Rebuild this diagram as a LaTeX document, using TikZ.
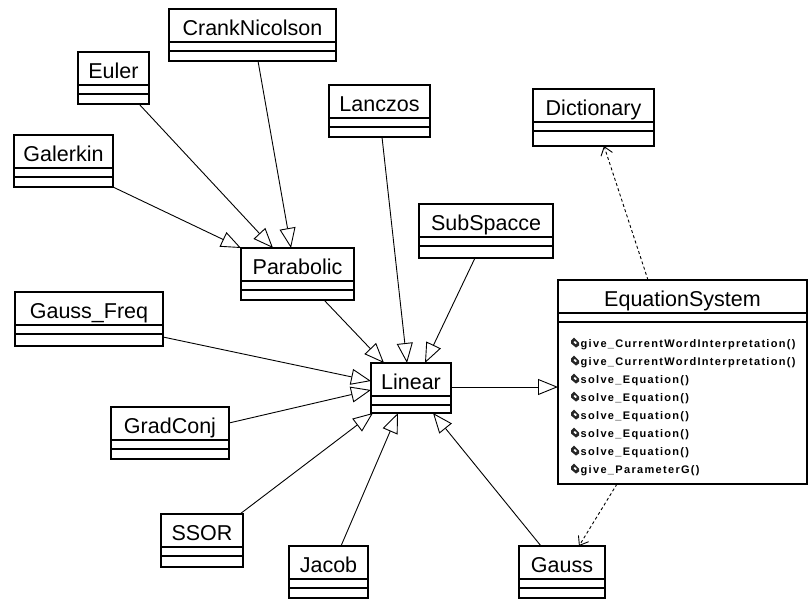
\documentclass[tikz,border=0pt]{standalone}
\usepackage{fontspec}
\setmainfont{Liberation Sans}
\newfontfamily\opfont[LetterSpace=12]{Liberation Sans Bold}
\usetikzlibrary{arrows.meta,calc}

% A UML class box: name compartment plus two empty compartments
% #1 node name, #2 left x, #3 top y, #4 width, #5 height, #6 class name
\newcommand\umlclass[6]{%
  \node[classbox, minimum width=#4pt, minimum height=#5pt] (#1) at (#2,-#3) {};
  \node[classname] (#1-name) at ($(#1.north)+(0,-26)$) {#6};
  \draw[boxline] ($(#1.north west)+(0,-33)$) -- ($(#1.north east)+(0,-33)$);
  \draw[boxline] ($(#1.north west)+(0,-42)$) -- ($(#1.north east)+(0,-42)$);
}

% Operation entry with its small icon; #1 node name, #2 baseline y, #3 text
\newcommand\umlop[3]{%
  \begin{scope}[shift={(0,-#2)}]
    \fill[black!85] (571,7) -- (574,10) -- (579,5) -- (579,2)
         -- (576,0) -- (571,4) -- cycle;
    \fill[white] (573.5,5.5) -- (575,6.5) -- (577,4.5) -- (575.5,3.5) -- cycle;
  \end{scope}
  \node[method] (#1) at (580.5,-#2) {#3};
}

\begin{document}
\begin{tikzpicture}[x=1pt,y=1pt,
  classbox/.style={draw, line width=1.2pt, rectangle, inner sep=0pt,
                   outer sep=0pt, anchor=north west},
  boxline/.style={line width=1.2pt},
  classname/.style={font=\fontsize{21.5}{24}\selectfont, inner sep=0pt, anchor=base},
  method/.style={font=\opfont\fontsize{11}{12}\selectfont,
                 anchor=base west, inner sep=0pt},
  gen/.style={line width=0.9pt,
              -{Triangle[open,length=20pt,width=16pt,line width=0.9pt]}},
  dep/.style={line width=0.9pt, dash pattern=on 3pt off 2.5pt,
              -{Straight Barb[length=8pt,width=12pt,line width=0.9pt]}},
]
\useasboundingbox (0,0) rectangle (809,-611);

% classes
\umlclass{crank}{169}{9}{167}{52}{CrankNicolson}
\umlclass{euler}{78}{52}{71}{52}{Euler}
\umlclass{galerkin}{14}{135}{99}{52}{Galerkin}
\umlclass{lanczos}{329}{85}{101}{52}{Lanczos}
\umlclass{dict}{533}{89}{121}{57}{Dictionary}
\umlclass{subspace}{419}{204}{134}{54}{SubSpacce}
\umlclass{parabolic}{241}{248}{113}{52}{Parabolic}
\umlclass{gaussfreq}{15}{292}{148}{54}{Gauss\_Freq}
\umlclass{linear}{371}{363}{80}{50}{Linear}
\umlclass{eqsys}{558}{280}{249}{204}{EquationSystem}
\umlclass{gradconj}{111}{407}{118}{52}{GradConj}
\umlclass{ssor}{161}{514}{82}{53}{SSOR}
\umlclass{jacob}{289}{546}{79}{52}{Jacob}
\umlclass{gauss}{519}{546}{86}{52}{Gauss}

% operations of EquationSystem
\umlop{op1}{347.5}{give\_CurrentWordInterpretation()}
\umlop{op2}{365.5}{give\_CurrentWordInterpretation()}
\umlop{op3}{383.5}{solve\_Equation()}
\umlop{op4}{401.5}{solve\_Equation()}
\umlop{op5}{419.5}{solve\_Equation()}
\umlop{op6}{437.5}{solve\_Equation()}
\umlop{op7}{455.5}{solve\_Equation()}
\umlop{op8}{473.5}{give\_ParameterG()}

% generalizations into Parabolic
\draw[gen] (galerkin.south east) -- (parabolic.north west);
\draw[gen] ([xshift=25.5pt]euler.south) -- ([xshift=32pt]parabolic.north west);
\draw[gen] ([xshift=5.5pt]crank.south) -- ([xshift=50pt]parabolic.north west);

% generalizations into Linear
\draw[gen] ([xshift=83pt]parabolic.south west) -- ([xshift=13pt]linear.north west);
\draw[gen] ([xshift=53pt]lanczos.south west) -- ([xshift=36pt]linear.north west);
\draw[gen] ([xshift=56pt]subspace.south west) -- ([xshift=54pt]linear.north west);
\draw[gen] ([yshift=9pt]gaussfreq.south east) -- ([yshift=-18pt]linear.north west);
\draw[gen] ([yshift=-16pt]gradconj.north east) -- ([yshift=-27pt]linear.north west);
\draw[gen] ([xshift=-3pt]ssor.north east) -- ([xshift=2pt]linear.south west);
\draw[gen] ([xshift=52pt]jacob.north west) -- ([xshift=27pt]linear.south west);
\draw[gen] ([xshift=22pt]gauss.north west) -- ([xshift=62pt]linear.south west);

% Linear into EquationSystem
\draw[gen] ([yshift=-24pt]linear.north east) -- ([yshift=-107pt]eqsys.north west);

% dependencies
\draw[dep] ([xshift=90pt]eqsys.north west) -- ([xshift=71pt]dict.south west);
\draw[dep] ([xshift=59pt]eqsys.south west) -- ([xshift=60pt]gauss.north west);
\end{tikzpicture}
\end{document}
